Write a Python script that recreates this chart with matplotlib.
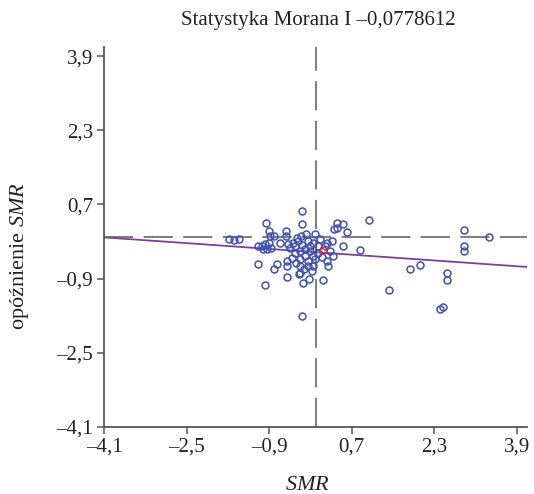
import numpy as np
import matplotlib
matplotlib.use('Agg')
import matplotlib.pyplot as plt
from matplotlib.ticker import FixedLocator

plt.rcParams['font.family'] = ['Liberation Serif', 'DejaVu Serif']
plt.rcParams['mathtext.fontset'] = 'custom'
plt.rcParams['mathtext.rm'] = 'Liberation Serif'
plt.rcParams['mathtext.it'] = 'Liberation Serif:italic'

# SMR values (x) and their spatial lag (y)
smr = [-0.26, -0.96, -0.26, 0.41, 0.53, 0.41, 0.36, 0.61, 1.03,
       -1.68, -1.58, -1.48, -0.90, -0.57, -0.57, -0.88, -0.81, -0.01,
       -0.19, -0.28, -0.36, 0.32, 0.22, 0.53, 0.86, -1.12, -1.04, -0.98,
       -0.90, -0.94, -0.86, -1.02, -0.69, -0.53, -0.44, -0.34, -0.50,
       -0.40, -1.12, -0.75, -0.81, -0.55, -0.55, -0.55, -0.30, -0.32,
       -0.13, -0.24, 0.14, -0.98, -0.26, 0.24, 0.22, -0.07, -0.05, -0.15,
       -0.05, -0.30, -0.21, -0.11, -0.21, -0.30, -0.40, -0.46, -0.11,
       0.05, 0.05, 0.12, -0.01, -0.15, -0.30, 0.18, 0.28, 0.34, -0.15,
       -0.05, 0.09, -0.26, -0.38, -0.22, 1.83, 2.02, 1.42, 2.88, 2.88,
       2.88, 3.36, 2.55, 2.55, 2.41, 2.47]
lag = [0.56, 0.30, 0.28, 0.30, 0.28, 0.19, 0.17, 0.11, 0.37,
       -0.04, -0.06, -0.04, 0.13, 0.13, 0.02, 0.02, 0.02, 0.06,
       0.06, 0.02, -0.02, -0.09, -0.13, -0.19, -0.28, -0.19, -0.19, -0.15,
       -0.13, -0.26, -0.24, -0.26, -0.13, -0.15, -0.13, -0.09, -0.24,
       -0.19, -0.58, -0.58, -0.69, -0.52, -0.62, -0.86, -0.78, -0.80,
       -0.91, -0.99, -0.93, -1.03, -1.70, -0.62, -0.52, -0.73, -0.62, -0.52,
       -0.41, -0.30, -0.26, -0.30, -0.41, -0.47, -0.34, -0.45, -0.19,
       -0.19, -0.34, -0.43, -0.47, -0.62, -0.62, -0.19, -0.30, -0.41, -0.09,
       -0.13, -0.04, -0.17, -0.56, -0.69, -0.69, -0.60, -1.14, 0.15, -0.19,
       -0.30, 0.00, -0.78, -0.93, -1.55, -1.51]

# highlighted unit
hlX = [0.14]
hlY = [-0.28]

moranI = -0.0778612
intercept = -0.33
ticks = [-4.1, -2.5, -0.9, 0.7, 2.3, 3.9]
lims = (-4.1, 4.1)


def fmt(v):
    s = '{:.1f}'.format(abs(v)).replace('.', ',')
    return ('\u2013' + s) if v < 0 else s


fig = plt.figure(figsize=(5.34, 4.94), dpi=100)
ax = fig.add_axes([0.195, 0.136, 0.792, 0.769])

gray = '#808080'
ax.axhline(0, color=gray, lw=1.5, dashes=(14, 5), zorder=1)
ax.axvline(0, color=gray, lw=1.5, dashes=(14, 5), zorder=1)

xl = np.array(lims)
ax.plot(xl, intercept + moranI * xl, color='#7D3F98', lw=1.3, zorder=2)

ax.plot(smr, lag, 'o', ms=5, mfc='none', mec='#3F52AE', mew=1.1, zorder=3)
ax.plot(hlX, hlY, 'o', ms=5, mfc='none', mec='#D8232A', mew=1.1, zorder=4)

ax.set_xlim(lims)
ax.set_ylim(lims)
ax.xaxis.set_major_locator(FixedLocator(ticks))
ax.yaxis.set_major_locator(FixedLocator(ticks))
ax.set_xticklabels([fmt(t) for t in ticks])
ax.set_yticklabels([fmt(t) for t in ticks])
ax.tick_params(direction='out', length=5, width=1.1, colors='#555555',
               labelcolor='#222222', labelsize=15, pad=3)

for s in ['top', 'right']:
    ax.spines[s].set_visible(False)
for s in ['left', 'bottom']:
    ax.spines[s].set_color('#555555')
    ax.spines[s].set_linewidth(1.3)

ax.set_xlabel('$SMR$', fontsize=16, color='#222222', va='center')
ax.xaxis.set_label_coords(0.48, -0.155)
ax.set_ylabel('opóźnienie $SMR$', fontsize=16, color='#222222', va='center')
ax.yaxis.set_label_coords(-0.2, 0.45)
fig.text(0.597, 1 - 21 / 494, 'Statystyka Morana I \u20130,0778612',
         fontsize=15, color='#222222', ha='center', va='center')

fig.savefig('out.png', dpi=100)
